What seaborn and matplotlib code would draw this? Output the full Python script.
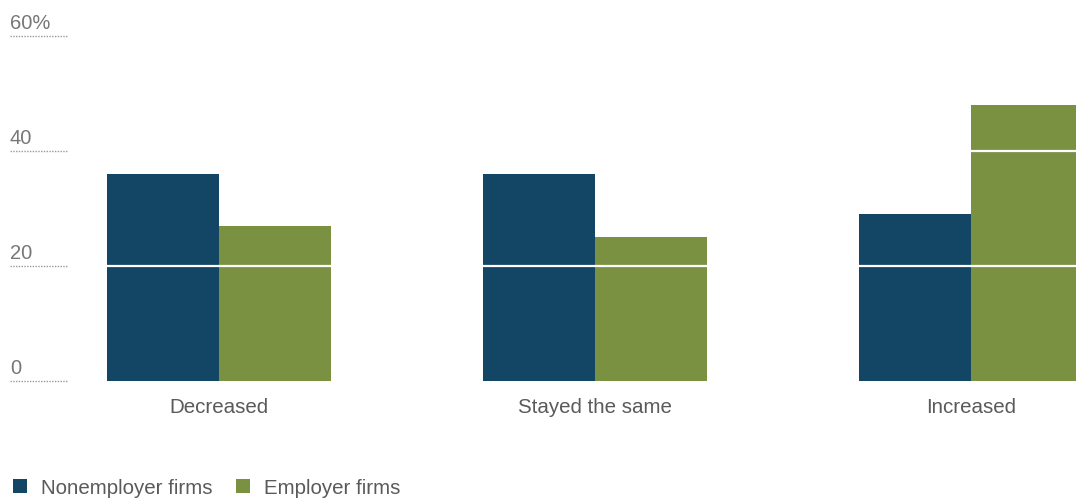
import matplotlib
matplotlib.use("Agg")
import matplotlib.pyplot as plt
import matplotlib.transforms as mtransforms
from matplotlib.lines import Line2D
import seaborn as sns
import pandas as pd

categories = ["Decreased", "Stayed the same", "Increased"]
series_names = ["Nonemployer firms", "Employer firms"]
nonemployer = [36, 36, 29]
employer = [27, 25, 48]
y_ticks = [0, 20, 40, 60]
y_tick_labels = ["0", "20", "40", "60%"]
colors = ["#134564", "#7A9142"]

df = pd.DataFrame({
    "category": categories * 2,
    "series": [series_names[0]] * 3 + [series_names[1]] * 3,
    "value": nonemployer + employer,
})

sns.set_theme(style="white")
plt.rcParams["font.family"] = ["Liberation Sans", "DejaVu Sans"]

W, H = 1076, 498
fig = plt.figure(figsize=(W / 100, H / 100), dpi=100)
ax = fig.add_axes([0, (H - 381) / H, 1, (381 - 36) / H])

sns.barplot(data=df, x="category", y="value", hue="series", order=categories,
            hue_order=series_names, palette=colors, width=0.596, gap=0,
            saturation=1, linewidth=0, ax=ax, legend=False, zorder=2)

ax.set_xlim(-219 / 376, (1076 - 219) / 376)
ax.set_ylim(0, 60)
for s in ax.spines.values():
    s.set_visible(False)
ax.set_xlabel("")
ax.set_ylabel("")
ax.set_yticks([])
ax.tick_params(axis="x", length=0, pad=12, labelsize=14.8, labelcolor="#5a5a5a")

# white gridlines drawn over bars
for t in y_ticks[1:]:
    ax.axhline(t, color="white", lw=1.6, zorder=3)

# left tick labels with dotted underline
trans = mtransforms.blended_transform_factory(ax.transAxes, ax.transData)
for t, lab in zip(y_ticks, y_tick_labels):
    ax.plot([10 / W, 67 / W], [t, t], transform=trans, color="#999999",
            lw=1.0, ls=(0, (1, 1)), clip_on=False, zorder=4)
    ax.text(10 / W, t + 0.5, lab, transform=trans, ha="left", va="bottom",
            fontsize=14.5, color="#777777")

handles = [Line2D([], [], marker="s", ls="none", markersize=10.3,
                  markerfacecolor=c, markeredgewidth=0) for c in colors]
fig.legend(handles, series_names, loc="center left",
           bbox_to_anchor=(12 / W, 1 - 488 / H), ncol=2, frameon=False,
           fontsize=14.8, labelcolor="#5a5a5a", handlelength=0.8,
           handletextpad=0.6, columnspacing=1.1, borderpad=0,
           borderaxespad=0)

fig.savefig("out.png", dpi=100)
